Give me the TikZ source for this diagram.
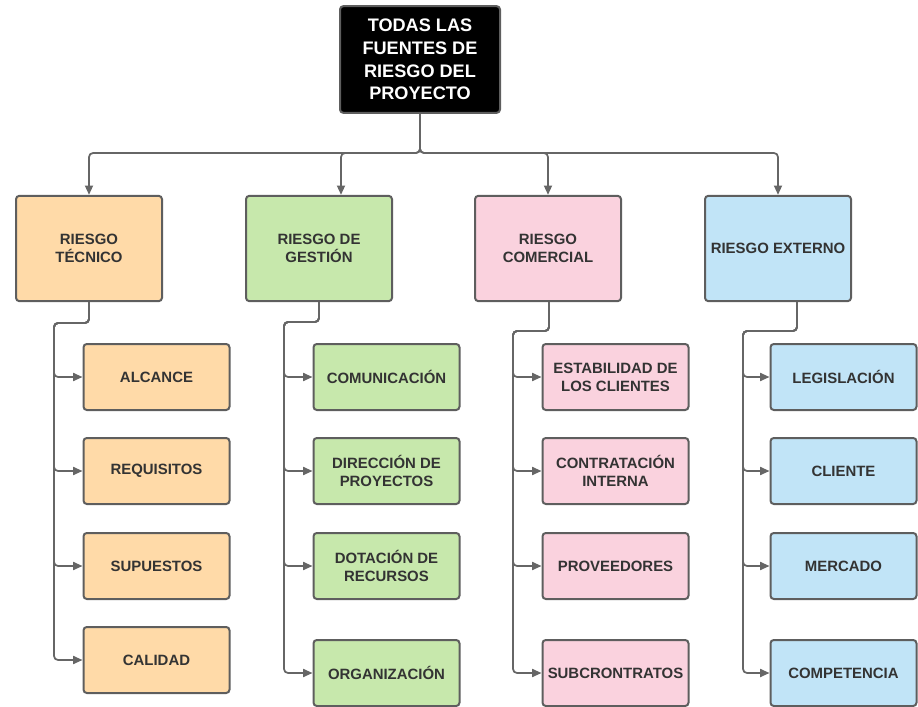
\documentclass[tikz,border=0pt]{standalone}
\usepackage{fontspec}
\setmainfont{Liberation Sans}
\usetikzlibrary{arrows.meta,calc}
\definecolor{boxline}{HTML}{5E5E5E}
\definecolor{lineg}{HTML}{666666}
\definecolor{txt}{HTML}{333333}
\definecolor{naranja}{HTML}{FFDAA8}
\definecolor{verde}{HTML}{C7E8AC}
\definecolor{rosa}{HTML}{FAD2DE}
\definecolor{azul}{HTML}{C1E4F7}
\begin{document}
\begin{tikzpicture}[x=0.75pt,y=-0.75pt,
    box/.style={draw=boxline,line width=1.5pt,rounded corners=2.5pt,
                align=center,text=txt,inner sep=0pt,
                font=\fontsize{11.2}{13.3}\selectfont\bfseries},
    cat/.style={box,minimum width=109.5pt,minimum height=79pt},
    sub/.style={box,minimum width=109.5pt,minimum height=49.5pt},
    conn/.style={lineg,line width=1.3pt,rounded corners=3pt,
                 -{Triangle[length=7pt,width=6pt]}}]
  \useasboundingbox (0,0) rectangle (918,707);
  %-------------------------------------------------- root
  \node[box,fill=black,text=white,minimum width=120pt,minimum height=80pt,
        font=\fontsize{13.6}{16.9}\selectfont\bfseries]
       (top) at (420,59.5) {TODAS LAS\\FUENTES DE\\RIESGO DEL\\PROYECTO};
  %-------------------------------------------------- the four risk kinds
  \node[cat,fill=naranja] (cat1) at (89,248.5)  {RIESGO\\TÉCNICO};
  \node[cat,fill=verde]   (cat2) at (319,248.5) {RIESGO DE\\GESTIÓN};
  \node[cat,fill=rosa]    (cat3) at (548,248.5) {RIESGO\\COMERCIAL};
  \node[cat,fill=azul]    (cat4) at (778,248.5) {RIESGO EXTERNO};
  \coordinate (bus) at (420,153);
  \draw[conn] (top.south) -- (bus) -| (cat1.north);
  \draw[conn] (top.south) -- (bus) -| ($(cat2.north)+(22,0)$);
  \draw[conn] (top.south) -- (bus) -| (cat3.north);
  \draw[conn] (top.south) -- (bus) -| (cat4.north);
  %-------------------------------------------------- technical
  \node[sub,fill=naranja] (a1) at (156.5,377) {ALCANCE};
  \node[sub,fill=naranja] (a2) at (156.5,471) {REQUISITOS};
  \node[sub,fill=naranja] (a3) at (156.5,566) {SUPUESTOS};
  \node[sub,fill=naranja] (a4) at (156.5,660) {CALIDAD};
  \coordinate (k1) at (54,323);
  \foreach \c in {a1,a2,a3,a4}
    \draw[conn] (cat1.south) |- (k1) |- (\c.west);
  %-------------------------------------------------- management
  \node[sub,fill=verde] (b1) at (386.5,377) {COMUNICACIÓN};
  \node[sub,fill=verde] (b2) at (386.5,471) {DIRECCIÓN DE\\PROYECTOS};
  \node[sub,fill=verde] (b3) at (386.5,566) {DOTACIÓN DE\\RECURSOS};
  \node[sub,fill=verde] (b4) at (386.5,673) {ORGANIZACIÓN};
  \coordinate (k2) at (284,322);
  \foreach \c in {b1,b2,b3,b4}
    \draw[conn] (cat2.south) |- (k2) |- (\c.west);
  %-------------------------------------------------- commercial
  \node[sub,fill=rosa] (c1) at (615.5,377) {ESTABILIDAD DE\\LOS CLIENTES};
  \node[sub,fill=rosa] (c2) at (615.5,471) {CONTRATACIÓN\\INTERNA};
  \node[sub,fill=rosa] (c3) at (615.5,566) {PROVEEDORES};
  \node[sub,fill=rosa] (c4) at (615.5,673) {SUBCRONTRATOS};
  \coordinate (k3) at (513,331);
  \foreach \c in {c1,c2,c3,c4}
    \draw[conn] ($(cat3.south)+(1,0)$) |- (k3) |- (\c.west);
  %-------------------------------------------------- external
  \node[sub,fill=azul] (d1) at (843.5,377) {LEGISLACIÓN};
  \node[sub,fill=azul] (d2) at (843.5,471) {CLIENTE};
  \node[sub,fill=azul] (d3) at (843.5,566) {MERCADO};
  \node[sub,fill=azul] (d4) at (843.5,673) {COMPETENCIA};
  \coordinate (k4) at (743,331);
  \foreach \c in {d1,d2,d3,d4}
    \draw[conn] ($(cat4.south)+(19,0)$) |- (k4) |- (\c.west);
\end{tikzpicture}
\end{document}
